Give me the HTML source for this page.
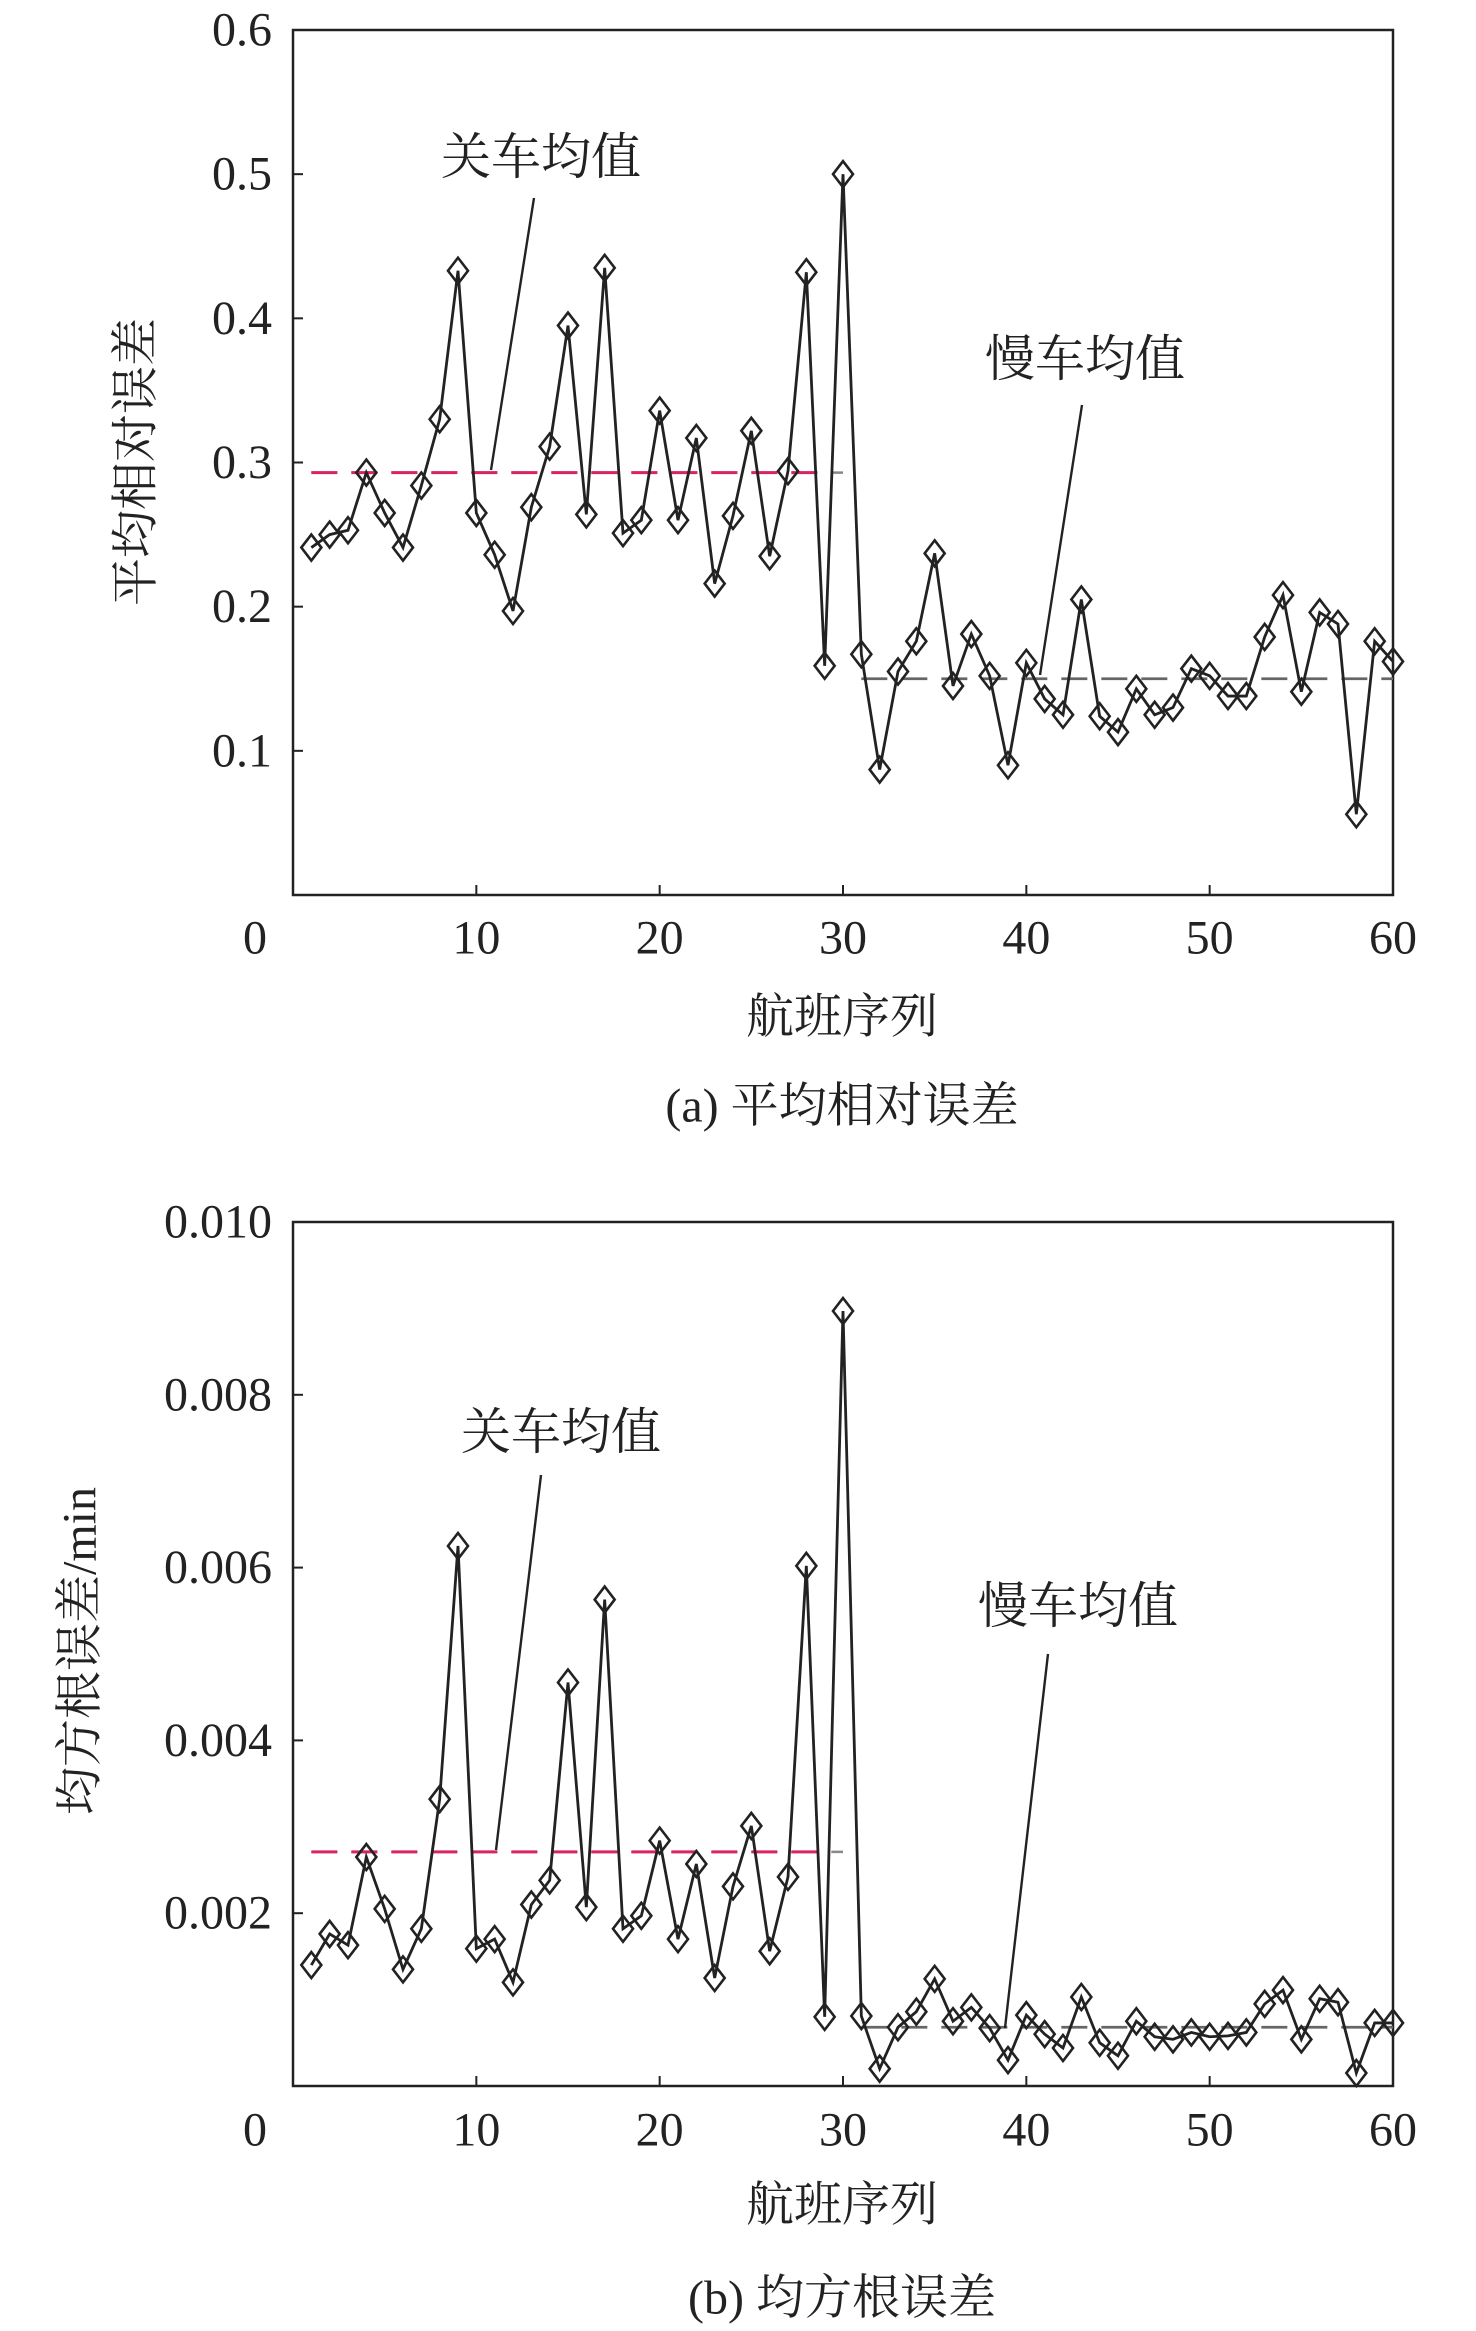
<!DOCTYPE html>
<html><head><meta charset="utf-8"><style>
html,body{margin:0;padding:0;background:#fff;}
svg{display:block;}
text{font-family:"Liberation Serif","Noto Serif CJK SC",serif;fill:#222;}
</style></head><body>
<svg id="fig" width="1476" height="2331" viewBox="0 0 1476 2331" xmlns="http://www.w3.org/2000/svg"></svg>
<script>
const flights = [];
for (let i = 1; i <= 60; i++) flights.push(i);
const mreValues = [0.241,0.250,0.253,0.293,0.265,0.241,0.284,0.330,0.433,0.265,0.236,0.197,0.269,0.311,0.395,0.264,0.435,0.251,0.260,0.336,0.260,0.317,0.216,0.263,0.322,0.235,0.294,0.432,0.159,0.500,0.167,0.087,0.155,0.176,0.237,0.145,0.181,0.152,0.090,0.161,0.136,0.125,0.205,0.124,0.113,0.143,0.125,0.130,0.157,0.152,0.138,0.138,0.179,0.208,0.141,0.196,0.188,0.056,0.176,0.162];
const rmseValues = [0.00140,0.00176,0.00163,0.00265,0.00205,0.00135,0.00182,0.00332,0.00625,0.00159,0.00170,0.00120,0.00210,0.00238,0.00467,0.00207,0.00563,0.00182,0.00197,0.00284,0.00170,0.00257,0.00125,0.00231,0.00301,0.00156,0.00242,0.00602,0.00080,0.00897,0.00081,0.00020,0.00068,0.00086,0.00124,0.00075,0.00091,0.00067,0.00030,0.00082,0.00060,0.00044,0.00103,0.00050,0.00035,0.00075,0.00057,0.00054,0.00062,0.00057,0.00058,0.00062,0.00095,0.00111,0.00054,0.00101,0.00097,0.00015,0.00073,0.00073];
const mreMeans = [0.293, 0.150];
const rmseMeans = [0.00271, 0.00068];
const xTicks = [0,10,20,30,40,50,60];
const mreTicks = [0.1,0.2,0.3,0.4,0.5,0.6];
const mreTickLabels = ["0.1","0.2","0.3","0.4","0.5","0.6"];
const rmseTicks = [0.002,0.004,0.006,0.008,0.010];
const rmseTickLabels = ["0.002","0.004","0.006","0.008","0.010"];

const NS = "http://www.w3.org/2000/svg";
const svg = document.getElementById('fig');
function mk(tag, attrs, parent, txt) {
  const e = document.createElementNS(NS, tag);
  for (const k in attrs) e.setAttribute(k, attrs[k]);
  if (txt !== undefined) e.textContent = txt;
  (parent || svg).appendChild(e);
  return e;
}

function panel(cfg) {
  const g = mk('g', {});
  
  
  const L = 293, R = 1393, T = cfg.top, B = cfg.bottom;
  const sx = v => L + (v - 0) / 60 * (R - L);
  const sy = v => B - v / cfg.ymax * (B - T);
  const frame = mk('rect', {x:L, y:T, width:R-L, height:B-T, fill:'none', stroke:'#222', 'stroke-width':2.5}, g);
  
  
  xTicks.forEach(t => {
    const x = sx(t);
    if (t > 0 && t < 60) mk('line', {x1:x, y1:B, x2:x, y2:B-10, stroke:'#222', 'stroke-width':2}, g);
    const lbl = mk('text', {x: t === 0 ? x - 38 : x, y: cfg.xLabelY, 'font-size':48, 'text-anchor':'middle', 'dominant-baseline':'central'}, g, String(t));
    
    
  });
  cfg.yticks.forEach((t, i) => {
    const y = sy(t);
    mk('line', {x1:L, y1:y, x2:L+10, y2:y, stroke:'#222', 'stroke-width':2}, g);
    const lbl = mk('text', {x:272, y:y, 'font-size':48, 'text-anchor':'end', 'dominant-baseline':'central'}, g, cfg.ylabels[i]);
    
    
  });
  const m1 = mk('line', {x1:sx(1), y1:sy(cfg.means[0]), x2:sx(30), y2:sy(cfg.means[0]), stroke:'#888', 'stroke-width':2.5, 'stroke-dasharray':'26 14'}, g);
  
  
  const m1r = mk('line', {x1:sx(1), y1:sy(cfg.means[0]), x2:sx(29), y2:sy(cfg.means[0]), stroke:'#d9245f', 'stroke-width':3, 'stroke-dasharray':'26 14'}, g);
  
  
  const m2 = mk('line', {x1:sx(31), y1:sy(cfg.means[1]), x2:sx(60), y2:sy(cfg.means[1]), stroke:'#666', 'stroke-width':2.8, 'stroke-dasharray':'26 14'}, g);
  
  
  const pts = flights.map((f, i) => sx(f) + ',' + sy(cfg.values[i])).join(' ');
  const pl = mk('polyline', {points:pts, fill:'none', stroke:'#222', 'stroke-width':2.8}, g);
  
  
  flights.forEach((f, i) => {
    const x = sx(f), y = sy(cfg.values[i]);
    const d = mk('polygon', {points:`${x},${y-13} ${x+10},${y} ${x},${y+13} ${x-10},${y}`, fill:'none', stroke:'#222', 'stroke-width':2.6}, g);
    
    
  });
  cfg.notes.forEach(n => {
    const t = mk('text', {x:n.tx, y:n.ty, 'font-size':50, 'text-anchor':'middle', 'dominant-baseline':'central'}, g, n.text);
    
    
    const ln = mk('line', {x1:n.l[0], y1:n.l[1], x2:n.l[2], y2:n.l[3], stroke:'#222', 'stroke-width':2.4}, g);
    
    
  });
  const xt = mk('text', {x:842, y:cfg.xTitleY, 'font-size':48, 'text-anchor':'middle', 'dominant-baseline':'central'}, g, '航班序列');
  
  
  const yt = mk('text', {x:0, y:0, 'font-size':48, 'text-anchor':'middle', 'dominant-baseline':'central', transform:`translate(${cfg.yTitleX},${cfg.yTitleY}) rotate(-90)`}, g, cfg.ytitle);
  
  
  const cap = mk('text', {x:842, y:cfg.capY, 'font-size':48, 'text-anchor':'middle', 'dominant-baseline':'central'}, g, cfg.caption);
  
  
}

panel({name:'panel-a-mre', top:30, bottom:895, ymax:0.6, values:mreValues, means:mreMeans,
  yticks:mreTicks, ylabels:mreTickLabels, xLabelY:938, xTitleY:1017, capY:1106,
  yTitleX:136, yTitleY:462, ytitle:'平均相对误差', caption:'(a) 平均相对误差',
  notes:[{name:'stop-mean-label', text:'关车均值', tx:541, ty:157, l:[534,198,491,470]},
         {name:'slow-mean-label', text:'慢车均值', tx:1085, ty:359, l:[1082,405,1040,675]}]});
panel({name:'panel-b-rmse', top:1222, bottom:2086, ymax:0.010, values:rmseValues, means:rmseMeans,
  yticks:rmseTicks, ylabels:rmseTickLabels, xLabelY:2130, xTitleY:2205, capY:2298,
  yTitleX:80, yTitleY:1651, ytitle:'均方根误差/min', caption:'(b) 均方根误差',
  notes:[{name:'stop-mean-label', text:'关车均值', tx:561, ty:1432, l:[541,1475,496,1850]},
         {name:'slow-mean-label', text:'慢车均值', tx:1078, ty:1606, l:[1048,1654,1005,2028]}]});
</script>
</body></html>
